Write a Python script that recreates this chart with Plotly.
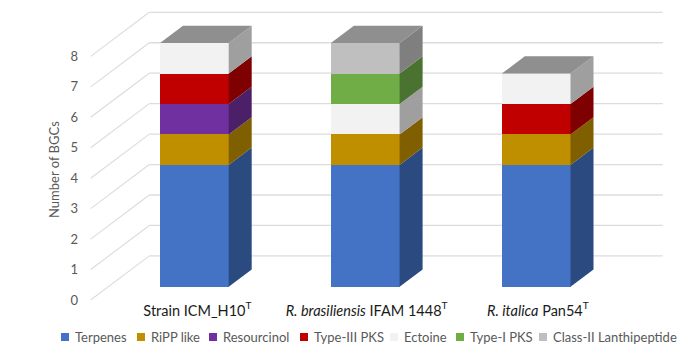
import plotly.graph_objects as go

categories = ["Strain ICM_H10<sup>T</sup>", "<i>R. brasiliensis</i> IFAM 1448<sup>T</sup>", "<i>R. italica</i> Pan54<sup>T</sup>"]
series_names = ["Terpenes", "RiPP like", "Resourcinol", "Type-III PKS", "Ectoine", "Type-I PKS", "Class-II Lanthipeptide"]
terpenes = [4, 4, 4]
ripp_like = [1, 1, 1]
resourcinol = [1, 0, 0]
type_iii_pks = [1, 0, 1]
ectoine = [1, 1, 1]
type_i_pks = [0, 1, 0]
class_ii_lanthipeptide = [0, 1, 0]
y_ticks = [0, 1, 2, 3, 4, 5, 6, 7, 8]

series_values = [terpenes, ripp_like, resourcinol, type_iii_pks, ectoine, type_i_pks, class_ii_lanthipeptide]
front_colors = ["#4472C4", "#BF8F00", "#7030A0", "#C00000", "#F2F2F2", "#70AD47", "#BFBFBF"]
side_colors = ["#2A4A80", "#7F5F00", "#4B2069", "#7F0000", "#9F9F9F", "#4A7230", "#7F7F7F"]
top_color = "#8F8F8F"
legend_x = [61, 137, 209, 300, 390, 456, 539]
label_shift = [0.018, 0.008, 0.01]

# oblique projection, in axis units
PX_X, PX_Y = 170.9, 30.45
BAR_W = 68.7 / PX_X
DX = 23.0 / PX_X          # bar depth, x direction
DY = 17.3 / PX_Y          # bar depth, y direction
FLOOR_FRONT_DY = -13.3 / PX_Y   # front edge of the floor relative to bar front
WALL_DY = 30.8 / PX_Y           # back wall relative to bar front
LEFT = 90
RIGHT = 664
FRONT_LEFT_X = (90.7 - 194.35) / PX_X
WALL_LEFT_X = (149.3 - 194.35) / PX_X
WALL_RIGHT_X = (662.7 - 194.35) / PX_X

fig = go.Figure()
positions = [0, 1, 2]

shapes = []
for v in y_ticks:
    shapes.append(dict(type="line", layer="below", xref="x", yref="y",
                       x0=WALL_LEFT_X, x1=WALL_RIGHT_X, y0=v + WALL_DY, y1=v + WALL_DY,
                       line=dict(color="#DCDCDC", width=1.3)))
    shapes.append(dict(type="line", layer="below", xref="x", yref="y",
                       x0=FRONT_LEFT_X, x1=WALL_LEFT_X, y0=v + FLOOR_FRONT_DY, y1=v + WALL_DY,
                       line=dict(color="#DCDCDC", width=1.1)))

for name, vals, fc in zip(series_names, series_values, front_colors):
    fig.add_trace(go.Bar(x=positions, y=vals, name=name, width=BAR_W, showlegend=False,
                         marker=dict(color=fc, line=dict(width=0))))

base = [0, 0, 0]
for name, vals, sc in zip(series_names, series_values, side_colors):
    xs, ys = [], []
    for i, v in enumerate(vals):
        if v > 0:
            xr = positions[i] + BAR_W / 2
            b, t = base[i], base[i] + v
            xs += [xr, xr + DX, xr + DX, xr, xr, None]
            ys += [b, b + DY, t + DY, t, b, None]
        base[i] += v
    fig.add_trace(go.Scatter(x=xs, y=ys, mode="lines", fill="toself", fillcolor=sc,
                             line=dict(width=0, color=sc), showlegend=False, hoverinfo="skip"))

xs, ys = [], []
for i, t in enumerate(base):
    xl, xr = positions[i] - BAR_W / 2, positions[i] + BAR_W / 2
    xs += [xl, xr, xr + DX, xl + DX, xl, None]
    ys += [t, t, t + DY, t + DY, t, None]
fig.add_trace(go.Scatter(x=xs, y=ys, mode="lines", fill="toself", fillcolor=top_color,
                         line=dict(width=0, color=top_color), showlegend=False, hoverinfo="skip"))

annotations = [dict(text="Number of BGCs", xref="paper", yref="paper",
                    x=(54 - LEFT) / (RIGHT - LEFT), y=(300 - 170) / 295, textangle=-90,
                    xanchor="center", yanchor="middle",
                    showarrow=False, font=dict(family="Lato", size=13, color="#595959"))]
for name, fc, lx in zip(series_names, front_colors, legend_x):
    x0 = (lx - LEFT) / (RIGHT - LEFT)
    x1 = (lx + 8 - LEFT) / (RIGHT - LEFT)
    shapes.append(dict(type="rect", xref="paper", yref="paper", x0=x0, x1=x1,
                       y0=(300 - 341) / 295, y1=(300 - 333) / 295, fillcolor=fc, line=dict(width=0)))
    annotations.append(dict(text=name, xref="paper", yref="paper",
                            x=(lx + 12 - LEFT) / (RIGHT - LEFT), y=(300 - 337) / 295,
                            xanchor="left", yanchor="middle", showarrow=False,
                            font=dict(family="Lato", size=13, color="#595959")))

fig.update_layout(
    width=693, height=355, autosize=False,
    margin=dict(l=LEFT, r=693 - RIGHT, t=5, b=55, pad=0),
    plot_bgcolor="white", paper_bgcolor="white",
    barmode="stack", showlegend=False, bargap=0,
    shapes=shapes, annotations=annotations,
    xaxis=dict(range=[(LEFT - 194.35) / PX_X, (RIGHT - 194.35) / PX_X],
               tickmode="array", tickvals=[p + s for p, s in zip(positions, label_shift)],
               ticktext=categories,
               showgrid=False, zeroline=False, showline=False, ticks="",
               tickfont=dict(family="Lato", size=14.5, color="#1A1A1A")),
    yaxis=dict(range=[FLOOR_FRONT_DY, (286.7 - 5) / PX_Y],
               tickmode="array", tickvals=[v + FLOOR_FRONT_DY for v in y_ticks],
               ticktext=[str(v) for v in y_ticks],
               showgrid=False, zeroline=False, showline=False, ticks="",
               ticklabelstandoff=11,
               tickfont=dict(family="Lato", size=13, color="#595959")),
)

fig.write_html("out.html", post_script="document.body.style.margin='0';", config={"displayModeBar": False})
